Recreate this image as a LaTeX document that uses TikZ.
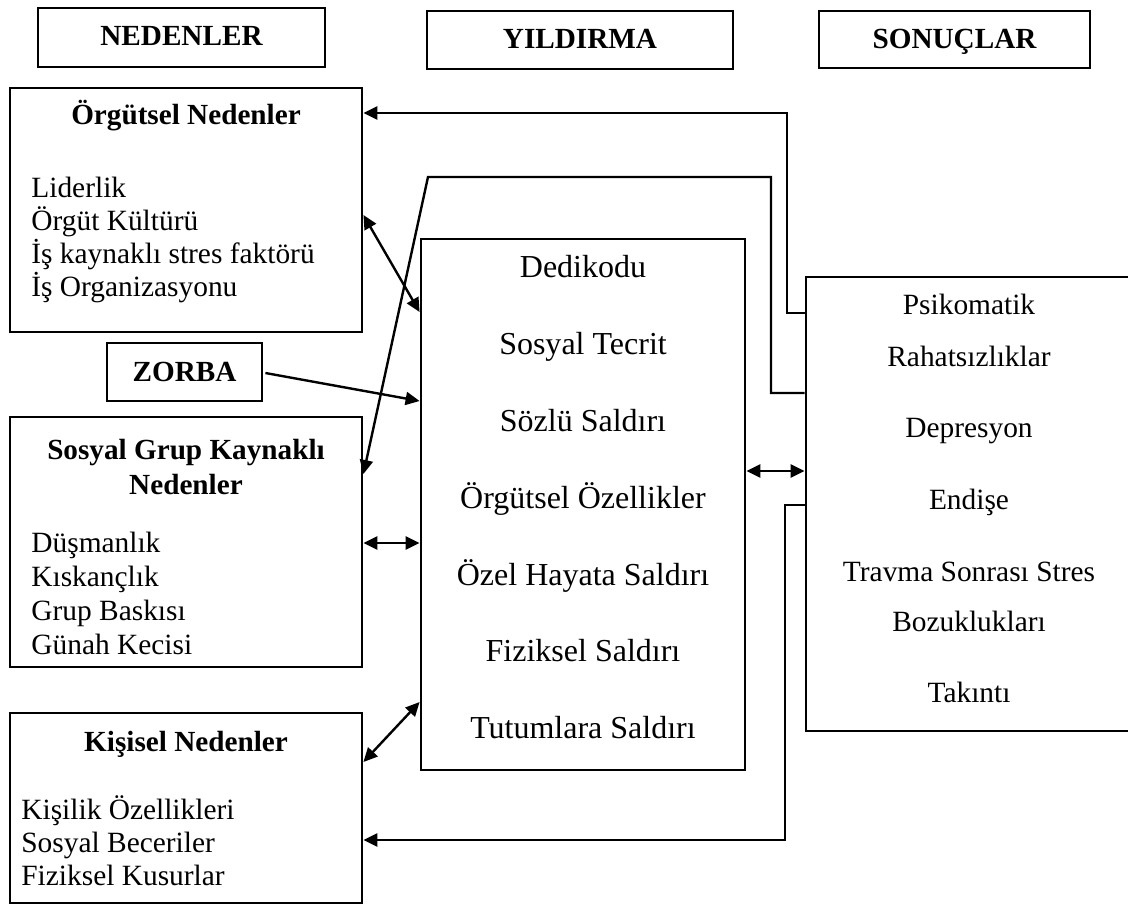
\documentclass[tikz,border=0pt]{standalone}
\usepackage{fontspec}
\setmainfont{Liberation Serif}
\usetikzlibrary{arrows.meta}
\begin{document}
\begin{tikzpicture}[x=0.5pt,y=-0.5pt,
  pbox/.style={draw, line width=1.4pt, inner sep=0pt},
  txt/.style={inner sep=0pt, anchor=base, yshift=-4.6pt, font=\fontsize{14.7}{18}\selectfont},
  mtxt/.style={txt, font=\fontsize{16}{19}\selectfont},
  btxt/.style={txt, font=\fontsize{14.6}{18}\selectfont\bfseries},
  ltxt/.style={txt, anchor=base west},
  tip/.tip={Triangle[length=7pt,width=6.5pt]},
  conn/.style={line width=1.2pt},
  arr/.style={conn, -tip},
  darr/.style={conn, tip-tip}]
\useasboundingbox (0,0) rectangle (1128,917);
% header boxes
\node[pbox, minimum width=143.5pt, minimum height=29.5pt] (H1) at (181.5,37.5) {};
\node[pbox, minimum width=153pt, minimum height=29pt] (H2) at (580,40) {};
\node[pbox, minimum width=135.5pt, minimum height=28.5pt] (H3) at (954.5,39.5) {};
\node[btxt] (h1t) at (181.5,36) {NEDENLER};
\node[btxt] (h2t) at (580,39) {YILDIRMA};
\node[btxt] (h3t) at (954.5,39) {SONUÇLAR};
% left boxes
\node[pbox, minimum width=176pt, minimum height=122pt] (O) at (186,210) {};
\node[pbox, minimum width=77.5pt, minimum height=29pt] (Z) at (184.5,372) {};
\node[pbox, minimum width=176pt, minimum height=125pt] (S) at (186,542) {};
\node[pbox, minimum width=176pt, minimum height=95pt] (K) at (186,808) {};
% middle and right boxes
\node[pbox, minimum width=162pt, minimum height=265.5pt] (M) at (583,504.5) {};
\node[pbox, minimum width=167pt, minimum height=227pt] (R) at (973,504) {};
% left texts
\node[btxt] (ot) at (186,115) {Örgütsel Nedenler};
\node[ltxt] (o1) at (31,188) {Liderlik};
\node[ltxt] (o2) at (31,221) {Örgüt Kültürü};
\node[ltxt] (o3) at (31,254) {İş kaynaklı stres faktörü};
\node[ltxt] (o4) at (31,287) {İş Organizasyonu};
\node[btxt] (zt) at (184.5,372) {ZORBA};
\node[btxt] (st1) at (186,450) {Sosyal Grup Kaynaklı};
\node[btxt] (st2) at (186,485) {Nedenler};
\node[ltxt] (s1) at (31,543) {Düşmanlık};
\node[ltxt] (s2) at (31,577) {Kıskançlık};
\node[ltxt] (s3) at (31,611) {Grup Baskısı};
\node[ltxt] (s4) at (31,645) {Günah Kecisi};
\node[btxt] (kt) at (186,742) {Kişisel Nedenler};
\node[ltxt] (k1) at (21,810) {Kişilik Özellikleri};
\node[ltxt] (k2) at (21,843) {Sosyal Beceriler};
\node[ltxt] (k3) at (21,876) {Fiziksel Kusurlar};
% middle texts
\node[mtxt] (m1) at (583,268) {Dedikodu};
\node[mtxt] (m2) at (583,345) {Sosyal Tecrit};
\node[mtxt] (m3) at (583,422) {Sözlü Saldırı};
\node[mtxt] (m4) at (583,499) {Örgütsel Özellikler};
\node[mtxt] (m5) at (583,576) {Özel Hayata Saldırı};
\node[mtxt] (m6) at (583,652) {Fiziksel Saldırı};
\node[mtxt] (m7) at (583,729) {Tutumlara Saldırı};
% right texts
\node[txt] (r1) at (969,305) {Psikomatik};
\node[txt] (r2) at (969,357) {Rahatsızlıklar};
\node[txt] (r3) at (969,428) {Depresyon};
\node[txt] (r4) at (969,500) {Endişe};
\node[txt] (r5) at (969,572) {Travma Sonrası Stres};
\node[txt] (r6) at (969,622) {Bozuklukları};
\node[txt] (r7) at (969,693) {Takıntı};
% connector coordinates
\coordinate (b1) at (787,313);
\coordinate (b2) at (787,113);
\coordinate (c0) at (0,474);
\coordinate (c1) at (428,177);
\coordinate (c2) at (771,177);
\coordinate (c3) at (771,393);
\coordinate (d1) at (0,215);
\coordinate (d2) at (0,312);
\coordinate (e1) at (0,373);
\coordinate (e2) at (0,401);
\coordinate (f1) at (0,471);
\coordinate (g1) at (0,543);
\coordinate (h1) at (0,762);
\coordinate (h2) at (0,702);
\coordinate (j1) at (785,505);
\coordinate (j2) at (785,840);
% connectors
\draw[arr] (R.west |- b1) -- (b1) -- (b2) -- (O.east |- b2);
\draw[conn, tip-] (S.east |- c0) -- (c1) -- (c2) -- (c3) -- (R.west |- c3);
\draw[darr] (O.east |- d1) -- (M.west |- d2);
\draw[arr] ([xshift=1pt]Z.east |- e1) -- (M.west |- e2);
\draw[darr] (M.east |- f1) -- (R.west |- f1);
\draw[darr] (S.east |- g1) -- (M.west |- g1);
\draw[darr] (K.east |- h1) -- (M.west |- h2);
\draw[arr] (R.west |- j1) -- (j1) -- (j2) -- (K.east |- j2);
\end{tikzpicture}
\end{document}
